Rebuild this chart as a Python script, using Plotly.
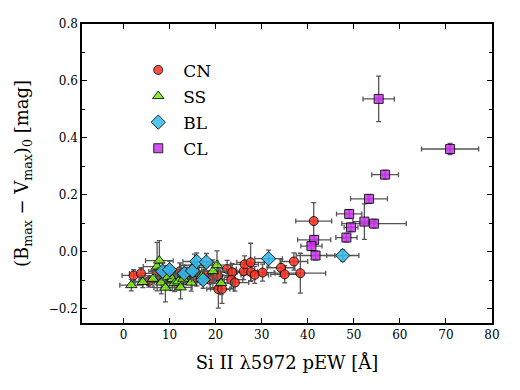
import plotly.graph_objects as go

# Si II 5972 pEW [A] vs (B-V)_0 colour, by spectroscopic subclass
cn_x = [2.2, 3.8, 5.5, 7.5, 9.0, 12.2, 13.5, 15.9, 17.5, 18.8, 19.4, 20.5, 20.6, 21.4,
        22.5, 23.6, 23.4, 24.2, 26.1, 26.3, 27.6, 27.7, 28.5, 30.2, 34.2, 35.0, 37.0,
        38.4, 41.3]
cn_y = [-0.083, -0.076, -0.104, -0.069, -0.080, -0.069, -0.085, -0.090, -0.078, -0.098,
        -0.096, -0.084, -0.131, -0.131, -0.060, -0.072, -0.098, -0.108, -0.068, -0.044,
        -0.037, -0.071, -0.081, -0.073, -0.056, -0.079, -0.034, -0.075, 0.108]
cn_xerr = [2.5, 2.5, 3.0, 2.0, 2.0, 2.5, 3.0, 3.0, 2.0, 2.5, 2.5, 2.5, 2.5, 2.5,
           2.0, 2.5, 2.5, 3.0, 3.0, 3.0, 3.0, 3.0, 3.0, 2.5, 3.0, 3.0, 3.0, 5.5, 3.9]
cn_yerr = [0.02, 0.02, 0.02, 0.03, 0.03, 0.03, 0.03, 0.03, 0.03, 0.03, 0.03, 0.04, 0.067,
           0.05, 0.03, 0.03, 0.03, 0.03, 0.03, 0.03, 0.067, 0.03, 0.03, 0.03, 0.03, 0.03,
           0.03, 0.07, 0.065]

ss_x = [1.7, 4.2, 6.4, 7.3, 7.8, 8.2, 9.1, 9.6, 10.6, 11.1, 11.9, 12.4, 13.0, 14.5,
        14.7, 15.4, 17.0, 19.4, 20.3, 21.2]
ss_y = [-0.117, -0.106, -0.095, -0.052, -0.031, -0.108, -0.126, -0.089, -0.096, -0.110,
        -0.104, -0.125, -0.095, -0.077, -0.108, -0.048, -0.085, -0.068, -0.047, -0.110]
ss_xerr = [2.5, 2.5, 3.0, 3.0, 3.0, 2.5, 2.5, 2.5, 2.5, 2.0, 2.0, 2.5, 2.0, 2.5,
           2.5, 3.0, 2.5, 3.0, 3.0, 2.5]
ss_yerr = [0.02, 0.02, 0.03, 0.085, 0.07, 0.04, 0.05, 0.04, 0.04, 0.03, 0.03, 0.04, 0.03,
           0.03, 0.03, 0.04, 0.03, 0.04, 0.05, 0.04]

bl_x = [8.5, 10.0, 13.2, 15.0, 15.9, 18.0, 17.3, 31.5, 47.6]
bl_y = [-0.068, -0.063, -0.076, -0.067, -0.034, -0.036, -0.098, -0.024, -0.013]
bl_xerr = [2.5, 2.5, 3.0, 2.5, 3.0, 2.5, 2.5, 3.0, 3.5]
bl_yerr = [0.03, 0.03, 0.03, 0.03, 0.03, 0.03, 0.03, 0.03, 0.02]

cl_x = [55.4, 70.9, 56.8, 53.3, 49.0, 52.3, 54.4, 49.4, 48.4, 41.4, 40.8, 41.7]
cl_y = [0.537, 0.361, 0.271, 0.186, 0.133, 0.106, 0.099, 0.086, 0.050, 0.042, 0.020, -0.013]
cl_xerr = [3.4, 6.2, 2.9, 4.0, 2.75, 2.5, 7.0, 1.5, 2.3, 3.6, 2.3, 4.2]
cl_yerr = [0.08, 0.02, 0.015, 0.015, 0.015, 0.062, 0.015, 0.015, 0.015, 0.015, 0.015, 0.015]

groups = [
    ("CN", cn_x, cn_y, cn_xerr, cn_yerr, "circle", "#ff3322", 9),
    ("SS", ss_x, ss_y, ss_xerr, ss_yerr, "triangle-up", "#77ee11", 10),
    ("BL", bl_x, bl_y, bl_xerr, bl_yerr, "diamond", "#33bbee", 11),
    ("CL", cl_x, cl_y, cl_xerr, cl_yerr, "square", "#cc33ee", 9),
]

fig = go.Figure()
for name, x, y, xe, ye, sym, col, size in groups:
    err = dict(type="data", color="#555555", thickness=1.3, width=2.5)
    fig.add_trace(go.Scatter(
        x=x, y=y, mode="markers", name=name, legendgroup=name,
        marker=dict(symbol=sym, color=col, size=size, opacity=0.85,
                    line=dict(color="black", width=1)),
        error_x=dict(err, array=xe), error_y=dict(err, array=ye),
    ))

axis = dict(showline=True, linecolor="black", linewidth=1.5, mirror="ticks",
            ticks="inside", ticklen=5, tickcolor="black", showgrid=False, zeroline=False,
            automargin=False,
            tickfont=dict(family="DejaVu Serif", size=12, color="black"))

fig.update_xaxes(axis, range=[-9, 80], dtick=10, tick0=0,
                 title=dict(text="Si II λ5972 pEW [Å]", font=dict(family="DejaVu Serif", size=18)))
fig.update_yaxes(axis, range=[-0.25, 0.8], dtick=0.2, tick0=0, tickformat=".1f",
                 minor=dict(ticks="inside", ticklen=3, dtick=0.1, tickcolor="black"),
                 title=dict(text="(B<sub>max</sub> − V<sub>max</sub>)<sub>0</sub> [mag]",
                            font=dict(family="DejaVu Serif", size=18)))

# the page body adds an 8px offset, so the figure is drawn a little smaller
fig.update_layout(
    width=512, height=382,
    margin=dict(l=74, r=28, t=16, b=67),
    plot_bgcolor="white", paper_bgcolor="white",
    font=dict(family="DejaVu Serif", color="black"),
    legend=dict(x=0.125, y=0.905, xanchor="left", yanchor="top", bgcolor="rgba(0,0,0,0)",
                font=dict(size=17), tracegroupgap=1, itemwidth=40),
)

fig.write_html("out.html")
